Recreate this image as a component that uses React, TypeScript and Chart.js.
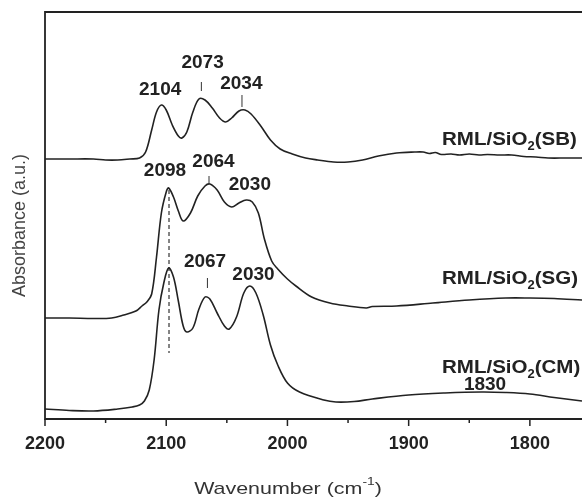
import React, { useEffect, useRef } from "react";
import { Chart, registerables } from "chart.js";

Chart.register(...registerables);

// Wavenumbers (cm-1) and absorbance (a.u., stacked with offsets) for each spectrum
const SB_WN = [2200, 2180, 2160, 2150, 2140, 2130, 2122, 2117, 2112, 2108, 2104, 2100, 2095, 2090, 2087, 2083, 2078, 2073, 2068, 2062, 2056, 2051, 2046, 2040, 2035, 2030, 2022, 2014, 2006, 1996, 1985, 1975, 1962, 1950, 1938, 1925, 1910, 1895, 1888, 1883, 1878, 1873, 1865, 1858, 1850, 1842, 1835, 1825, 1815, 1805, 1795, 1785, 1770, 1757];
const SB_ABS = [2.60, 2.60, 2.60, 2.59, 2.59, 2.60, 2.61, 2.67, 2.89, 3.07, 3.14, 3.09, 2.94, 2.83, 2.81, 2.87, 3.07, 3.20, 3.19, 3.11, 3.01, 2.97, 3.01, 3.08, 3.09, 3.05, 2.93, 2.79, 2.70, 2.65, 2.61, 2.59, 2.57, 2.57, 2.59, 2.63, 2.66, 2.67, 2.67, 2.655, 2.665, 2.645, 2.65, 2.64, 2.65, 2.64, 2.645, 2.64, 2.64, 2.625, 2.62, 2.61, 2.61, 2.61];

const SG_WN = [2200, 2180, 2160, 2145, 2135, 2125, 2120, 2116, 2112, 2108, 2104, 2100, 2098, 2094, 2090, 2086, 2080, 2074, 2068, 2064, 2058, 2052, 2046, 2040, 2034, 2029, 2024, 2019, 2013, 2008, 2000, 1993, 1980, 1965, 1950, 1935, 1930, 1910, 1880, 1850, 1820, 1800, 1780, 1757];
const SG_ABS = [1.01, 1.01, 1.005, 1.01, 1.04, 1.08, 1.13, 1.17, 1.25, 1.62, 2.06, 2.27, 2.31, 2.22, 2.08, 1.98, 2.06, 2.23, 2.33, 2.35, 2.29, 2.17, 2.12, 2.16, 2.19, 2.17, 2.06, 1.80, 1.58, 1.50, 1.40, 1.33, 1.22, 1.16, 1.13, 1.11, 1.125, 1.13, 1.16, 1.19, 1.21, 1.21, 1.205, 1.19];

const CM_WN = [2200, 2180, 2160, 2140, 2128, 2122, 2118, 2114, 2110, 2106, 2102, 2098, 2094, 2090, 2086, 2083, 2078, 2073, 2068, 2064, 2058, 2052, 2048, 2042, 2036, 2031, 2026, 2020, 2014, 2008, 2000, 1990, 1970, 1960, 1945, 1930, 1900, 1870, 1840, 1820, 1800, 1780, 1757];
const CM_ABS = [0.10, 0.085, 0.08, 0.10, 0.12, 0.14, 0.18, 0.29, 0.59, 1.09, 1.36, 1.51, 1.42, 1.18, 0.93, 0.87, 0.91, 1.10, 1.22, 1.20, 1.06, 0.93, 0.90, 1.02, 1.26, 1.33, 1.26, 1.04, 0.74, 0.54, 0.36, 0.27, 0.19, 0.17, 0.175, 0.20, 0.24, 0.26, 0.27, 0.265, 0.25, 0.215, 0.18];

// Axis range
const X_MIN = 1757;
const X_MAX = 2200;
const Y_MIN = 0;
const Y_MAX = 4.07;
const X_TICK_STEP = 50;

// Peak annotations: text, wavenumber, absorbance (label centre)
const PEAK_TEXT = ["2104", "2073", "2034", "2098", "2064", "2030", "2067", "2030", "1830"];
const PEAK_WN = [2105, 2070, 2038, 2101, 2061, 2031, 2068, 2028, 1837];
const PEAK_ABS = [3.29, 3.56, 3.35, 2.48, 2.57, 2.34, 1.57, 1.44, 0.34];

// Small marker lines above peaks: wavenumber, from, to
const MARK_WN = [2071, 2037.5, 2064.7, 2066];
const MARK_FROM = [3.37, 3.24, 2.43, 1.41];
const MARK_TO = [3.28, 3.12, 2.36, 1.31];

// Dashed guide line
const DASH_WN = 2097.7;
const DASH_FROM = 2.29;
const DASH_TO = 0.66;

// Sample labels
const SAMPLE_NAMES = ["SB", "SG", "CM"];
const SAMPLE_WN = 1872.5;
const SAMPLE_ABS = [2.81, 1.42, 0.53];

const FONT = "'Liberation Sans', Arial, Helvetica, sans-serif";
const INK = "#222";

const overlay = {
  id: "overlay",
  afterDraw(chart: any) {
    const ctx = chart.ctx;
    const xs = chart.scales.x;
    const ys = chart.scales.y;
    const a = chart.chartArea;
    const px = (v: number) => xs.getPixelForValue(v);
    const py = (v: number) => ys.getPixelForValue(v);
    ctx.save();

    // frame
    ctx.strokeStyle = INK;
    ctx.lineWidth = 1.8;
    ctx.beginPath();
    ctx.moveTo(a.right + 2, a.top);
    ctx.lineTo(a.left, a.top);
    ctx.lineTo(a.left, a.bottom);
    ctx.lineTo(a.right + 2, a.bottom);
    ctx.stroke();

    // x tick marks
    ctx.lineWidth = 1.5;
    for (let v = X_MAX; v >= X_MIN; v -= X_TICK_STEP) {
      const x = px(v);
      const len = v % 100 === 0 ? 7 : 4;
      ctx.beginPath();
      ctx.moveTo(x, a.bottom);
      ctx.lineTo(x, a.bottom + len);
      ctx.stroke();
    }

    // dashed guide
    ctx.lineWidth = 1.1;
    ctx.setLineDash([4, 3]);
    ctx.beginPath();
    ctx.moveTo(px(DASH_WN), py(DASH_FROM));
    ctx.lineTo(px(DASH_WN), py(DASH_TO));
    ctx.stroke();
    ctx.setLineDash([]);

    // peak marker lines
    ctx.lineWidth = 1;
    ctx.strokeStyle = "#333";
    MARK_WN.forEach((w, i) => {
      ctx.beginPath();
      ctx.moveTo(px(w), py(MARK_FROM[i]));
      ctx.lineTo(px(w), py(MARK_TO[i]));
      ctx.stroke();
    });

    // peak labels
    ctx.fillStyle = INK;
    ctx.font = `bold 19px ${FONT}`;
    ctx.textAlign = "center";
    ctx.textBaseline = "middle";
    PEAK_TEXT.forEach((t, i) => {
      ctx.fillText(t, px(PEAK_WN[i]), py(PEAK_ABS[i]));
    });

    // sample labels with subscript
    ctx.textAlign = "left";
    ctx.textBaseline = "alphabetic";
    SAMPLE_NAMES.forEach((n, i) => {
      const x0 = px(SAMPLE_WN);
      const yb = py(SAMPLE_ABS[i]) + 7;
      ctx.save();
      ctx.translate(x0, yb);
      ctx.scale(1.08, 1);
      ctx.font = `bold 19px ${FONT}`;
      const p1 = "RML/SiO";
      ctx.fillText(p1, 0, 0);
      let x = ctx.measureText(p1).width;
      ctx.font = `bold 12px ${FONT}`;
      ctx.fillText("2", x, 5);
      x += ctx.measureText("2").width;
      ctx.font = `bold 19px ${FONT}`;
      ctx.fillText(`(${n})`, x, 0);
      ctx.restore();
    });

    // x axis title
    ctx.fillStyle = "#333";
    ctx.save();
    const main = "Wavenumber (cm";
    const sup = "-1";
    ctx.font = `17px ${FONT}`;
    const w1 = ctx.measureText(main).width;
    ctx.font = `11px ${FONT}`;
    const w2 = ctx.measureText(sup).width;
    ctx.font = `17px ${FONT}`;
    const w3 = ctx.measureText(")").width;
    const sx = 1.26;
    const total = (w1 + w2 + w3) * sx;
    ctx.translate(288 - total / 2, 494);
    ctx.scale(sx, 1);
    ctx.textAlign = "left";
    ctx.fillText(main, 0, 0);
    ctx.font = `11px ${FONT}`;
    ctx.fillText(sup, w1, -9);
    ctx.font = `17px ${FONT}`;
    ctx.fillText(")", w1 + w2, 0);
    ctx.restore();

    // y axis title
    ctx.save();
    ctx.fillStyle = "#444";
    ctx.translate(20, (a.top + a.bottom) / 2 + 10);
    ctx.rotate(-Math.PI / 2);
    ctx.font = `18px ${FONT}`;
    ctx.textAlign = "center";
    ctx.textBaseline = "middle";
    ctx.fillText("Absorbance (a.u.)", 0, 0);
    ctx.restore();

    ctx.restore();
  },
};

const toPoints = (xs: number[], ys: number[]) => xs.map((x, i) => ({ x, y: ys[i] }));

export default function App() {
  const ref = useRef<HTMLCanvasElement | null>(null);
  useEffect(() => {
    if (!ref.current) return;
    const line = (label: string, wn: number[], ab: number[]) => ({
      label,
      data: toPoints(wn, ab),
      borderColor: INK,
      borderWidth: 1.6,
      pointRadius: 0,
      tension: 0.35,
      fill: false,
    });
    const chart = new Chart(ref.current, {
      type: "line",
      data: {
        datasets: [
          line("RML/SiO2(SB)", SB_WN, SB_ABS),
          line("RML/SiO2(SG)", SG_WN, SG_ABS),
          line("RML/SiO2(CM)", CM_WN, CM_ABS),
        ],
      },
      options: {
        animation: false,
        responsive: false,
        devicePixelRatio: 1,
        layout: { padding: { left: 45, top: 12, right: 0, bottom: 0 } },
        plugins: { legend: { display: false }, tooltip: { enabled: false } },
        scales: {
          x: {
            type: "linear",
            reverse: true,
            min: X_MIN,
            max: X_MAX,
            afterFit: (s: any) => {
              s.height = 79;
              s.paddingLeft = 0;
              s.paddingRight = 0;
            },
            grid: { display: false, drawTicks: false },
            border: { display: false },
            ticks: {
              stepSize: X_TICK_STEP,
              includeBounds: false,
              autoSkip: false,
              maxRotation: 0,
              padding: 14,
              color: INK,
              font: { family: FONT, size: 18, weight: "bold" },
              callback: (v: any) => (Number(v) % 100 === 0 ? String(v) : ""),
            },
          },
          y: { display: false, min: Y_MIN, max: Y_MAX },
        },
      },
      plugins: [overlay],
    } as any);
    return () => chart.destroy();
  }, []);
  return (
    <div style={{ position: "fixed", left: 0, top: 0, width: 582, height: 498, background: "#fff" }}>
      <canvas ref={ref} width={582} height={498} />
    </div>
  );
}
